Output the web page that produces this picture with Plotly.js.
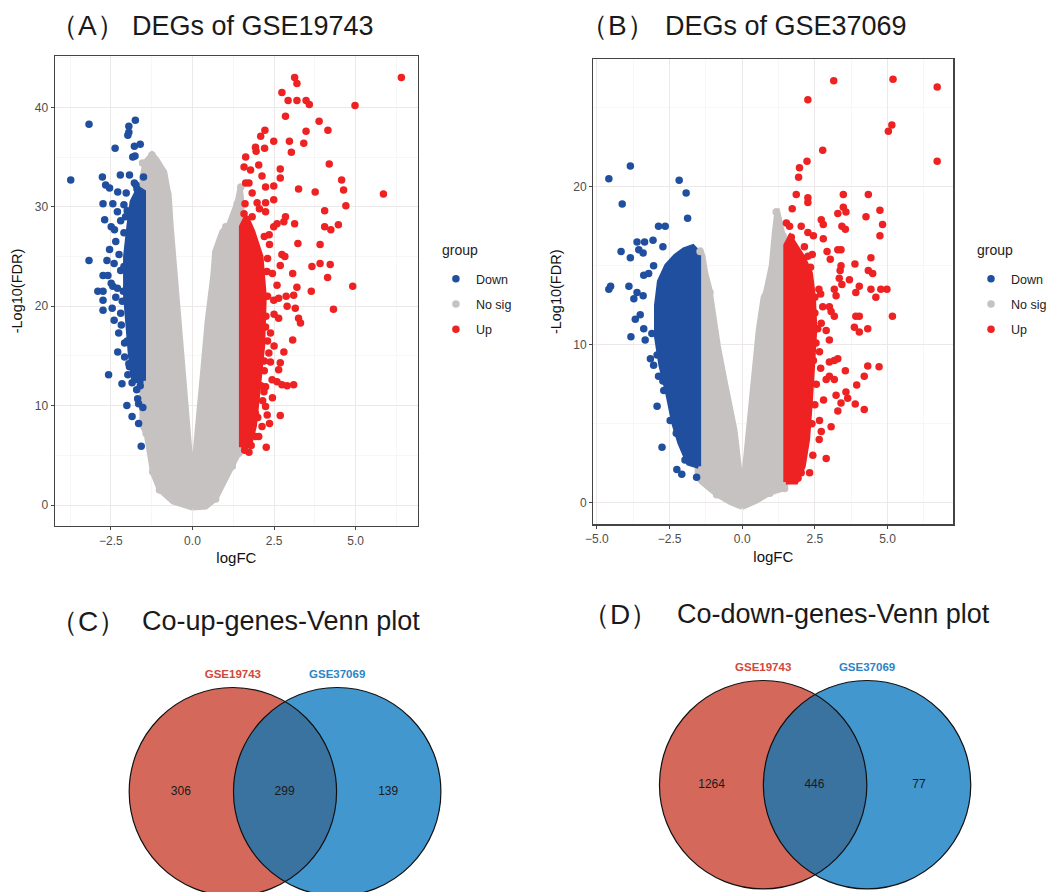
<!DOCTYPE html>
<html>
<head>
<meta charset="utf-8">
<script src="https://cdn.plot.ly/plotly-3.0.1.min.js"></script>
<style>html,body{margin:0;padding:0;background:#fff;}#chart{width:1052px;height:892px;}</style>
</head>
<body>
<div id="chart"></div>
<script>
// ---------------- DATA ----------------
// Panel A (GSE19743) - individual visible points
const A_down_x = [-3.73,-3.17,-3.17,-2.37,-1.95,-1.75,-1.98,-1.95,-1.78,-1.60,-1.83,-1.76,-2.76,-2.66,-2.54,-2.21,-1.93,-1.50,-2.29,-2.03,-1.78,-1.73,-2.74,-2.44,-2.69,-2.49,-2.39,-2.54,-2.62,-2.74,-2.59,-2.44,-2.90,-2.74,-2.74,-2.74,-2.46,-2.49,-2.18,-2.26,-2.08,-2.29,-2.08,-1.93,-1.98,-2.57,-2.16,-1.71,-1.68,-1.65,-2.01,-1.85,-1.65,-1.57,-1.52,-2.30,-2.20,-2.10,-2.35,-2.25,-2.40,-2.20,-2.30,-2.15,-2.35,-2.20,-2.40,-2.10,-2.00,-2.05,-2.10,-2.12,-2.00,-1.95,-1.85,-1.60,-1.70];
const A_down_y = [32.7,38.3,24.6,35.9,38.1,38.7,37.2,37.5,36.1,36.3,35.0,35.1,33.0,32.2,31.9,33.2,33.2,33.0,31.5,31.4,32.4,32.2,30.3,30.3,28.7,28.0,27.7,25.7,24.6,23.1,23.1,22.0,21.5,21.5,20.6,19.6,19.8,22.3,18.1,17.3,16.3,15.4,14.9,13.9,13.1,13.1,12.2,11.6,10.7,10.2,10.0,8.9,8.2,5.9,9.8,29.5,28.6,27.4,26.5,25.2,24.3,23.6,21.8,20.5,20.9,19.3,18.6,30.2,29.6,29.0,24.0,21.5,16.5,14.2,12.3,12.0,31.8];
const A_up_x = [3.13,3.20,6.40,2.74,2.93,3.20,3.48,3.58,4.98,2.85,3.88,4.15,2.22,2.09,2.49,2.97,3.48,3.41,3.03,1.93,1.95,2.21,1.63,1.58,1.78,2.03,4.19,2.69,2.69,2.13,1.63,1.73,2.24,2.49,3.25,3.76,4.57,4.63,4.70,5.85,1.83,1.61,1.98,2.24,2.49,1.58,1.83,2.05,2.24,2.85,4.05,3.13,2.80,4.05,4.24,4.47,2.49,2.59,3.23,3.91,2.36,2.74,2.83,3.66,3.91,4.22,2.30,2.69,3.07,4.14,4.91,2.59,3.20,3.64,3.10,4.32,2.90,3.15,2.49,2.64,2.87,3.25,3.31,2.64,2.24,2.39,3.07,2.80,2.34,2.39,2.69,2.64,2.44,2.59,2.74,2.90,3.10,2.24,2.19,2.69,2.29,2.36,2.13,1.93,2.03,1.73,2.26,2.24,1.93,2.35,2.45,2.30,2.50,2.30,2.50,2.20,2.45,2.15,2.20,2.28,2.25,2.20,2.10,2.00,1.80,1.60];
const A_up_y = [43.0,42.4,43.0,41.5,40.7,40.7,40.7,40.3,40.2,39.1,38.6,37.7,37.7,37.1,36.6,36.6,37.6,36.4,35.5,36.0,35.6,35.9,35.0,34.0,33.7,34.2,34.3,33.8,32.9,33.1,32.4,32.4,32.0,32.1,31.8,31.5,32.7,31.7,30.1,31.3,31.4,30.3,30.4,30.4,30.7,29.3,29.0,29.8,29.5,29.0,29.6,28.3,28.5,28.0,27.7,28.2,28.0,28.3,26.3,26.2,26.2,25.2,25.0,24.0,24.3,24.2,24.8,24.1,23.3,22.9,22.0,22.1,21.9,21.5,21.1,19.7,20.0,19.8,20.6,20.8,21.0,18.8,18.3,18.8,17.9,17.3,16.6,15.4,15.3,14.4,14.3,13.6,12.6,12.4,12.1,12.0,12.1,11.9,11.4,9.0,9.05,8.2,7.9,6.9,6.9,5.3,5.8,9.9,9.2,27.2,23.3,21.0,19.2,16.5,16.0,13.5,10.8,10.5,27.0,23.5,19.0,14.5,12.0,8.8,6.0,5.5];
const A_nosig_x = [-1.01,0.71,-1.22,1.22,1.42,-1.42,-1.24,-1.53,-1.17,-0.76,1.48,1.37,1.02,0.76,1.12];
const A_nosig_y = [1.5,0.6,3.35,3.9,5.2,7.2,35.2,34.4,33.9,31.3,32.0,30.3,28.0,25.3,24.6];
// Panel A - outlines of the areas packed solid with overlapping points
const A_nosig_dense_x = [0.00,0.41,0.71,1.02,1.22,1.42,1.55,1.55,1.50,1.46,1.37,1.12,0.90,0.68,0.62,0.45,0.30,0.15,0.03,-0.03,-0.15,-0.30,-0.40,-0.51,-0.60,-0.65,-0.71,-0.85,-1.10,-1.24,-1.45,-1.55,-1.55,-1.42,-1.22,-1.01,-0.60];
const A_nosig_dense_y = [-0.3,-0.2,0.6,2.5,3.9,5.2,6.5,27.0,31.0,32.0,30.5,28.3,27.5,25.5,23.0,18.5,13.0,7.0,3.5,3.5,8.0,14.0,18.0,22.6,25.0,28.0,31.0,33.5,34.8,35.3,34.5,33.0,8.0,7.2,3.2,1.5,0.3];
const A_down_dense_x = [-1.50,-1.50,-1.65,-1.85,-1.95,-2.05,-2.05,-1.98,-1.90,-1.80];
const A_down_dense_y = [12.5,31.5,31.8,30.5,28.0,25.0,21.0,18.0,15.0,12.5];
const A_up_dense_x = [1.50,1.50,1.65,1.85,2.10,2.20,2.15,2.00,1.90,1.75];
const A_up_dense_y = [5.8,28.0,29.0,27.5,25.0,21.0,16.0,11.0,8.0,6.0];

// Panel B (GSE37069)
const B_down_x = [-4.59,-3.85,-4.13,-2.17,-1.93,-1.88,-2.88,-2.65,-3.62,-3.36,-3.07,-4.17,-3.85,-3.56,-3.41,-2.73,-3.05,-3.39,-3.22,-4.53,-4.59,-3.90,-3.62,-3.41,-1.74,-3.73,-3.68,-3.51,-3.39,-3.11,-3.83,-3.34,-3.16,-3.05,-2.93,-2.88,-2.73,-2.70,-2.93,-2.48,-2.27,-2.76,-1.97,-1.79,-2.25,-2.08,-1.57,-2.31];
const B_down_y = [20.5,21.3,18.9,20.4,19.6,18.0,17.5,17.5,16.5,16.5,16.6,15.9,15.5,16.0,15.8,16.2,15.0,14.4,14.5,13.7,13.5,13.7,13.3,13.1,15.9,12.9,11.6,11.9,11.0,10.7,10.5,10.3,9.1,8.7,9.35,8.0,7.7,7.1,6.1,5.2,4.4,3.5,2.7,2.6,2.1,1.8,1.6,6.1];
const B_up_x = [3.15,5.19,6.71,2.26,5.15,5.03,2.77,6.71,2.23,1.97,1.94,1.86,2.26,2.26,3.48,4.34,1.72,3.48,3.29,3.57,4.74,4.26,2.72,2.79,1.52,1.63,2.03,3.43,3.55,4.83,2.26,2.45,4.74,1.69,2.14,2.79,2.92,3.29,3.40,1.69,1.97,2.26,2.41,3.03,3.88,4.43,3.40,3.37,1.63,2.01,2.35,4.34,4.49,3.69,4.03,3.34,3.43,2.64,4.98,4.43,4.60,3.91,3.17,3.23,5.17,3.91,4.03,3.86,4.03,4.32,4.71,4.32,3.55,4.20,3.94,3.57,3.63,3.89,4.20,3.06,2.89,2.43,2.03,2.32,1.92,2.72,2.66,3.29,3.40,3.23,3.00,2.89,3.17,3.29,3.17,3.00,2.77,3.00,3.06,3.17,2.72,2.89,3.00,2.54,2.66,4.77,2.50,2.60,2.45,2.70,2.55,2.80,2.50,2.65,2.40,2.50,2.70];
const B_up_y = [26.7,26.8,26.3,25.5,23.9,23.5,22.3,21.6,21.6,21.2,20.6,19.5,19.3,19.0,19.5,19.5,18.6,18.7,18.3,18.4,18.5,18.1,17.9,17.6,17.7,17.5,17.5,17.5,17.3,17.6,17.1,16.9,16.9,16.8,16.2,16.7,15.9,16.0,16.0,15.7,15.4,15.6,15.7,15.4,15.1,15.5,15.0,14.7,14.9,14.9,14.9,14.7,14.5,14.1,13.7,14.2,13.8,13.5,13.5,13.5,13.0,13.3,13.5,13.1,11.8,11.8,11.8,11.1,10.8,11.0,8.6,8.65,8.35,8.0,7.45,7.0,6.6,6.25,5.9,4.8,2.8,3.0,1.9,1.9,1.55,4.5,5.2,5.8,6.3,6.8,8.0,7.8,7.8,9.1,9.0,8.9,12.4,12.4,12.1,11.8,11.35,10.9,10.3,10.1,9.55,13.5,12.0,11.0,9.0,8.5,7.5,6.5,6.2,4.0,5.0,13.0,13.2];
const B_nosig_x = [1.17,1.40,0.83,-1.45,-1.11,-0.88,0.95,1.46];
const B_nosig_y = [18.4,16.9,13.1,15.9,13.3,0.5,0.6,0.9];
const B_nosig_dense_x = [0.00,0.50,0.95,1.46,1.55,1.55,1.40,1.20,1.10,1.00,0.80,0.72,0.55,0.38,0.15,0.03,-0.03,-0.25,-0.60,-0.82,-0.99,-1.11,-1.25,-1.35,-1.45,-1.55,-1.55,-1.40,-0.88,-0.40];
const B_nosig_dense_y = [-0.3,0.1,0.6,0.9,1.5,16.5,17.0,18.6,17.0,15.0,13.3,13.0,10.9,7.8,3.5,1.2,1.2,4.6,7.8,9.9,12.0,13.5,14.5,15.6,16.1,15.5,1.6,1.3,0.5,0.0];
const B_down_dense_x = [-1.50,-1.50,-1.70,-2.00,-2.30,-2.60,-2.85,-2.95,-2.95,-2.80,-2.55,-2.35,-2.15,-1.85];
const B_down_dense_y = [2.3,15.8,16.2,16.0,15.6,15.0,14.0,12.5,10.5,8.7,6.8,5.0,3.8,2.5];
const B_up_dense_x = [1.50,1.50,1.65,1.85,2.10,2.35,2.45,2.50,2.45,2.35,2.25,2.10,1.85];
const B_up_dense_y = [1.3,16.3,16.8,16.2,15.5,14.5,13.0,11.0,9.0,6.5,4.0,2.3,1.3];

// Group names and tick labels
const groups = ['Down', 'No sig', 'Up'];
const A_xticks = [-2.5, 0, 2.5, 5];
const A_xticklabels = ['\u22122.5', '0.0', '2.5', '5.0'];
const A_yticks = [0, 10, 20, 30, 40];
const B_xticks = [-5, -2.5, 0, 2.5, 5];
const B_xticklabels = ['\u22125.0', '\u22122.5', '0.0', '2.5', '5.0'];
const B_yticks = [0, 10, 20];

// Venn data
const vennSets = ['GSE19743', 'GSE37069'];
const coUpCounts = [306, 299, 139];     // only A, both, only B
const coDownCounts = [1264, 446, 77];

// ---------------- STYLE ----------------
const FONT = 'Liberation Sans, Arial, Helvetica, sans-serif';
const COL = {'Down': '#214f9f', 'No sig': '#c6c2c2', 'Up': '#ee2222'};
const VENN_L = '#d4695b', VENN_R = '#4397cf', VENN_I = '#3a72a0';
const LAB_L = '#d1483a', LAB_R = '#2c84c6';

const traces = [];
function dense(xs, ys, col, xa, ya) {
  traces.push({type: 'scatter', mode: 'lines', x: xs.concat([xs[0]]), y: ys.concat([ys[0]]),
    fill: 'toself', fillcolor: col, line: {color: col, width: 5},
    xaxis: xa, yaxis: ya, showlegend: false, hoverinfo: 'skip'});
}
function pts(xs, ys, grp, xa, ya, leg) {
  traces.push({type: 'scatter', mode: 'markers', x: xs, y: ys, name: grp,
    marker: {color: COL[grp], size: 7.5}, xaxis: xa, yaxis: ya,
    legend: leg, legendgroup: leg + grp, showlegend: true});
}
// Panel A
dense(A_nosig_dense_x, A_nosig_dense_y, COL['No sig'], 'x', 'y');
dense(A_down_dense_x, A_down_dense_y, COL['Down'], 'x', 'y');
dense(A_up_dense_x, A_up_dense_y, COL['Up'], 'x', 'y');
pts(A_down_x, A_down_y, groups[0], 'x', 'y', 'legend');
pts(A_nosig_x, A_nosig_y, groups[1], 'x', 'y', 'legend');
pts(A_up_x, A_up_y, groups[2], 'x', 'y', 'legend');
// Panel B
dense(B_nosig_dense_x, B_nosig_dense_y, COL['No sig'], 'x2', 'y2');
dense(B_down_dense_x, B_down_dense_y, COL['Down'], 'x2', 'y2');
dense(B_up_dense_x, B_up_dense_y, COL['Up'], 'x2', 'y2');
pts(B_down_x, B_down_y, groups[0], 'x2', 'y2', 'legend2');
pts(B_nosig_x, B_nosig_y, groups[1], 'x2', 'y2', 'legend2');
pts(B_up_x, B_up_y, groups[2], 'x2', 'y2', 'legend2');

// Venn geometry (pixel coordinates on hidden axes x3/y3)
const vennC = {cx1: 234, cx2: 338.8, cy: 791.7, r: 104.2, labY: 675, numY: 792, numX: [181.7, 286, 390]};
const vennD = {cx1: 766.8, cx2: 871.2, cy: 784.7, r: 104.2, labY: 668.3, numY: 785, numX: [715, 818.3, 923.3]};
const shapes = [];
function lens(v) {
  const d = v.cx2 - v.cx1, a = d / 2, th = Math.acos(a / v.r);
  let p = '';
  const n = 60;
  for (let i = 0; i <= n; i++) {
    const t = -th + 2 * th * i / n;
    p += (i ? 'L' : 'M') + (v.cx1 + v.r * Math.cos(t)).toFixed(2) + ',' + (v.cy + v.r * Math.sin(t)).toFixed(2);
  }
  for (let i = 0; i <= n; i++) {
    const t = Math.PI - th + 2 * th * i / n;
    p += 'L' + (v.cx2 + v.r * Math.cos(t)).toFixed(2) + ',' + (v.cy + v.r * Math.sin(t)).toFixed(2);
  }
  return p + 'Z';
}
function venn(v, counts) {
  const c = (cx, fill, line) => ({type: 'circle', xref: 'x3', yref: 'y3', x0: cx - v.r, x1: cx + v.r,
    y0: v.cy - v.r, y1: v.cy + v.r, fillcolor: fill, line: line, layer: 'below'});
  shapes.push(c(v.cx1, VENN_L, {width: 0}));
  shapes.push(c(v.cx2, VENN_R, {width: 0}));
  shapes.push({type: 'path', xref: 'x3', yref: 'y3', path: lens(v), fillcolor: VENN_I, line: {width: 0}, layer: 'below'});
  shapes.push(c(v.cx1, 'rgba(0,0,0,0)', {color: '#111', width: 1.2}));
  shapes.push(c(v.cx2, 'rgba(0,0,0,0)', {color: '#111', width: 1.2}));
  traces.push({type: 'scatter', mode: 'text', x: v.numX, y: [v.numY, v.numY, v.numY],
    text: counts.map(String), textfont: {family: FONT, size: 12, color: '#1a1a1a'},
    xaxis: 'x3', yaxis: 'y3', showlegend: false, hoverinfo: 'skip'});
  traces.push({type: 'scatter', mode: 'text', x: [v.cx1, v.cx2], y: [v.labY, v.labY],
    text: vennSets, textfont: {family: FONT, size: 11.5, color: [LAB_L, LAB_R], weight: 'bold'},
    xaxis: 'x3', yaxis: 'y3', showlegend: false, hoverinfo: 'skip'});
}
venn(vennC, coUpCounts);
venn(vennD, coDownCounts);

const W = 1052, H = 892;
const gridMajor = '#ece8e8', gridMinor = '#f4f1f1';
function xax(px0, px1, range, tv, tt) {
  return {domain: [px0 / W, px1 / W], range: range, tickmode: 'array', tickvals: tv, ticktext: tt,
    showgrid: true, gridcolor: gridMajor, gridwidth: 1, zeroline: false,
    minor: {dtick: 1.25, tick0: 0, showgrid: true, gridcolor: gridMinor, gridwidth: 0.6},
    showline: true, mirror: true, linecolor: '#444', linewidth: 1.2,
    ticks: 'outside', ticklen: 3, tickcolor: '#444', tickwidth: 1,
    tickfont: {family: FONT, size: 12, color: '#4d4d4d'},
    title: {text: 'logFC', font: {family: FONT, size: 15, color: '#111'}, standoff: 6}};
}
function yax(py0, py1, range, tv) {
  return {domain: [1 - py1 / H, 1 - py0 / H], range: range, tickmode: 'array', tickvals: tv, ticktext: tv.map(String),
    showgrid: true, gridcolor: gridMajor, gridwidth: 1, zeroline: false,
    minor: {dtick: 5, tick0: 0, showgrid: true, gridcolor: gridMinor, gridwidth: 0.6},
    showline: true, mirror: true, linecolor: '#444', linewidth: 1.2,
    ticks: 'outside', ticklen: 3, tickcolor: '#444', tickwidth: 1,
    tickfont: {family: FONT, size: 12, color: '#4d4d4d'},
    title: {text: '-Log10(FDR)', font: {family: FONT, size: 14.5, color: '#111'}, standoff: 8}};
}
const xa = xax(55, 420, [-4.22, 6.91], A_xticks, A_xticklabels); xa.anchor = 'y';
const ya = yax(56, 526, [-2.11, 45.17], A_yticks); ya.anchor = 'x';
const xb = xax(596, 958, [-5.13, 7.27], B_xticks, B_xticklabels); xb.anchor = 'y2';
const yb = yax(59.3, 524.3, [-1.37, 28.06], B_yticks); yb.anchor = 'x2';

function leg(pxLeft) {
  return {x: pxLeft / W, xanchor: 'left', y: 1 - 264 / H, yanchor: 'top',
    font: {family: FONT, size: 12.5, color: '#222'}, bgcolor: 'rgba(0,0,0,0)',
    traceorder: 'grouped', tracegroupgap: 6, itemclick: false, itemdoubleclick: false};
}

function ann(text, px, py, size, anchor, color) {
  return {text: text, x: px / W, y: 1 - py / H, xref: 'paper', yref: 'paper', xanchor: anchor || 'left', yanchor: 'middle',
    showarrow: false, font: {family: FONT, size: size, color: color || '#1a1a1a'}};
}
const annotations = [
  ann('\uff08A\uff09', 48, 26, 28), ann('DEGs of GSE19743', 131, 26, 27),
  ann('\uff08B\uff09', 581, 26, 28), ann('DEGs of GSE37069', 666, 26, 27),
  ann('\uff08C\uff09', 48, 621, 28), ann('Co-up-genes-Venn plot', 141, 621, 27),
  ann('\uff08D\uff09', 583, 614, 28), ann('Co-down-genes-Venn plot', 678, 614, 27),
  ann('group', 442, 250, 14, 'left', '#222'), ann('group', 980, 250, 14, 'left', '#222')
];

const layout = {
  width: W, height: H, margin: {l: 0, r: 0, t: 0, b: 0},
  paper_bgcolor: '#fff', plot_bgcolor: '#fff',
  font: {family: FONT},
  xaxis: xa, yaxis: ya, xaxis2: xb, yaxis2: yb,
  xaxis3: {domain: [0, 1], range: [0, W], visible: false, anchor: 'y3', fixedrange: true},
  yaxis3: {domain: [0, 292 / H], range: [H, 600], visible: false, anchor: 'x3', fixedrange: true},
  legend: leg(438), legend2: leg(976),
  shapes: shapes, annotations: annotations, showlegend: true
};
Plotly.newPlot('chart', traces, layout, {displayModeBar: false, staticPlot: true});
</script>
</body>
</html>
